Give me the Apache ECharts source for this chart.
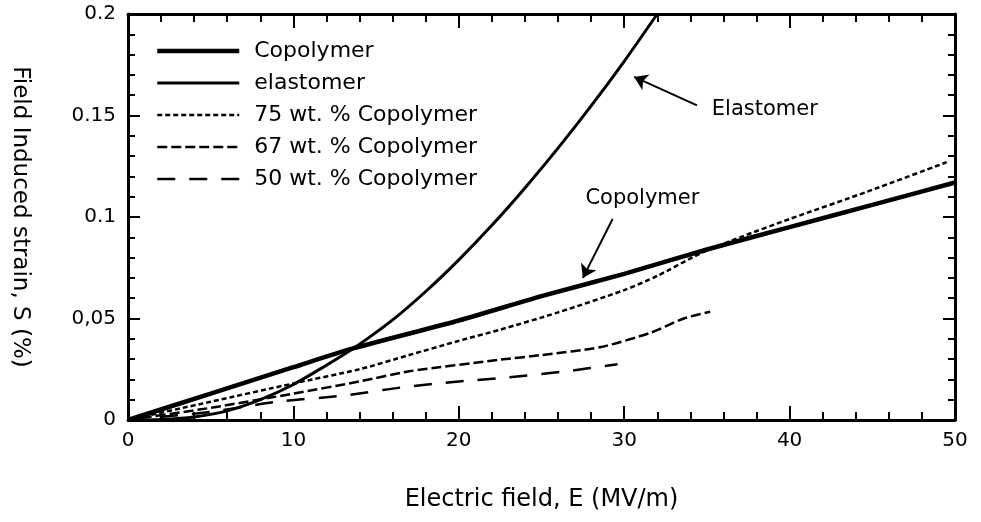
<!DOCTYPE html>
<html>
<head>
<meta charset="utf-8">
<script src="https://cdn.jsdelivr.net/npm/echarts@6/dist/echarts.min.js"></script>
<style>html,body{margin:0;padding:0;background:#fff;}#c{width:981px;height:522px;}</style>
</head>
<body>
<div id="c"></div>
<script>
// ---- data (E in MV/m, S in %) ----
const seriesNames = ['Copolymer', 'elastomer', '75 wt. % Copolymer', '67 wt. % Copolymer', '50 wt. % Copolymer'];
const xTickLabels = ['0', '10', '20', '30', '40', '50'];
const yTickLabels = ['0', '0,05', '0.1', '0.15', '0.2'];

const copolymerE = [0, 5, 10, 13.5, 20, 25, 30, 35, 40, 45, 50];
const copolymerS = [0, 0.013, 0.026, 0.035, 0.049, 0.061, 0.072, 0.084, 0.095, 0.106, 0.117];

const elastomerE = [0, 2, 4, 6, 8, 10, 12, 13, 14, 16, 18, 20, 22, 24, 26, 28, 30, 32];
const elastomerS = [0, 0.0003, 0.0015, 0.0045, 0.010, 0.0175, 0.027, 0.032, 0.0373, 0.0493, 0.0633, 0.0789, 0.0959, 0.1143, 0.1339, 0.1547, 0.1767, 0.2];

const cop75E = [0, 5, 10, 14, 17, 20, 22.5, 26, 30, 32, 34.6, 37, 40, 44.7, 49.5];
const cop75S = [0, 0.009, 0.018, 0.025, 0.032, 0.039, 0.0445, 0.053, 0.064, 0.071, 0.082, 0.090, 0.099, 0.1125, 0.127];

const cop67E = [0, 5, 10, 14, 17, 22.5, 25, 28.6, 31.6, 33.6, 35.2];
const cop67S = [0, 0.006, 0.013, 0.019, 0.024, 0.0297, 0.032, 0.036, 0.043, 0.050, 0.0533];

const cop50E = [0, 5, 9, 13, 16.5, 20, 23, 26.5, 29.6];
const cop50S = [0, 0.004, 0.009, 0.012, 0.016, 0.019, 0.021, 0.024, 0.0275];

// annotation anchors in data units
const elastomerArrow = [[34.4, 0.155], [30.6, 0.169]];
const copolymerArrow = [[29.3, 0.099], [27.5, 0.070]];
const elastomerLabelAt = [38.5, 0.153];
const copolymerLabelAt = [31.1, 0.109];

function zip(a, b) { return a.map((v, i) => [v, b[i]]); }

const FONT = 'DejaVu Sans';
const chart = echarts.init(document.getElementById('c'), null, {renderer: 'canvas'});

const baseX = {
  type: 'value', min: 0, max: 50, interval: 10,
  axisLine: {show: true, onZero: false, lineStyle: {color: '#000', width: 3}},
  axisTick: {show: true, inside: true, length: 14, lineStyle: {color: '#000', width: 2}},
  minorTick: {show: true, splitNumber: 5, length: 8, lineStyle: {color: '#000', width: 2}},
  splitLine: {show: false}
};
const baseY = {
  type: 'value', min: 0, max: 0.2, interval: 0.05,
  axisLine: {show: true, onZero: false, lineStyle: {color: '#000', width: 3}},
  axisTick: {show: true, inside: true, length: 12, lineStyle: {color: '#000', width: 2}},
  minorTick: {show: true, splitNumber: 5, length: 7, lineStyle: {color: '#000', width: 2}},
  splitLine: {show: false}
};

const widths = [4.5, 3, 2.5, 2.5, 2.5];
const dashes = ['solid', 'solid', [5, 3], [10, 4], [18, 14]];

const lineSeries = (i, data) => ({
  name: seriesNames[i], type: 'line', data, xAxisIndex: 0, yAxisIndex: 0,
  symbol: 'none', smooth: 0.25, clip: true,
  lineStyle: {color: '#000', width: widths[i], type: dashes[i]},
  itemStyle: {color: '#000'},
  emphasis: {disabled: true}
});

const option = {
  animation: false,
  backgroundColor: '#fff',
  grid: {left: 127, right: 26, top: 14, bottom: 102},
  legend: {
    orient: 'vertical', left: 150, top: 35,
    itemWidth: 82, itemHeight: 14, itemGap: 10,
    itemStyle: {opacity: 0},
    textStyle: {color: '#000', fontSize: 22, fontFamily: FONT, padding: [0, 0, 0, 10]},
    data: seriesNames.map((n, i) => ({
      name: n,
      lineStyle: {color: '#000', width: widths[i], type: dashes[i]}
    }))
  },
  xAxis: [
    Object.assign({}, baseX, {
      position: 'bottom',
      name: 'Electric field, E (MV/m)', nameLocation: 'middle', nameGap: 68,
      nameTextStyle: {color: '#000', fontSize: 24, fontFamily: FONT},
      axisLabel: {color: '#000', fontSize: 20, fontFamily: FONT, margin: 11,
        formatter: (v) => xTickLabels[Math.round(v / 10)]}
    }),
    Object.assign({}, baseX, {position: 'top', axisLabel: {show: false}})
  ],
  yAxis: [
    Object.assign({}, baseY, {
      position: 'left',
      name: 'Field Induced strain, S (%)', nameLocation: 'middle', nameGap: 97, nameRotate: -90,
      nameTextStyle: {color: '#000', fontSize: 23, fontFamily: FONT},
      axisLabel: {color: '#000', fontSize: 20, fontFamily: FONT, margin: 12,
        formatter: (v) => yTickLabels[Math.round(v / 0.05)]}
    }),
    Object.assign({}, baseY, {position: 'right', axisLabel: {show: false}})
  ],
  series: [
    Object.assign(lineSeries(0, zip(copolymerE, copolymerS)), {
      markLine: {
        silent: true, symbol: ['none', 'arrow'], symbolSize: 13, animation: false,
        label: {show: false},
        lineStyle: {color: '#000', width: 2, type: 'solid'},
        data: [
          [{coord: copolymerArrow[0], symbol: 'none'}, {coord: copolymerArrow[1], symbol: 'arrow', symbolSize: 13}],
          [{coord: elastomerArrow[0], symbol: 'none'}, {coord: elastomerArrow[1], symbol: 'arrow', symbolSize: 13}]
        ]
      },
      markPoint: {
        silent: true, symbol: 'circle', symbolSize: 0,
        label: {show: true, position: 'inside', color: '#000', fontSize: 21, fontFamily: FONT,
          formatter: (p) => p.name},
        data: [
          {name: 'Elastomer', coord: elastomerLabelAt},
          {name: 'Copolymer', coord: copolymerLabelAt}
        ]
      }
    }),
    lineSeries(1, zip(elastomerE, elastomerS)),
    lineSeries(2, zip(cop75E, cop75S)),
    lineSeries(3, zip(cop67E, cop67S)),
    lineSeries(4, zip(cop50E, cop50S))
  ]
};
chart.setOption(option);
</script>
</body>
</html>
